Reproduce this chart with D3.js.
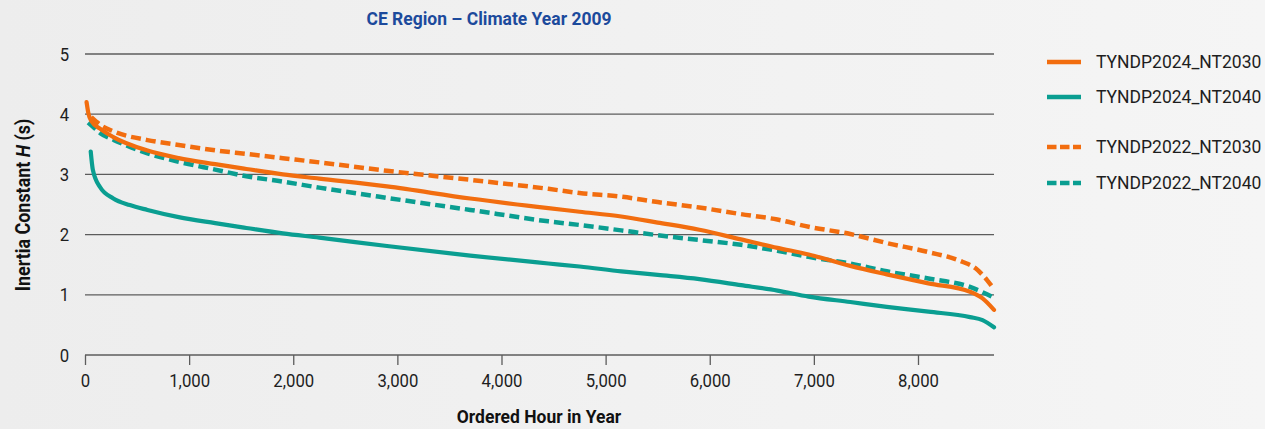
<!DOCTYPE html>
<html>
<head>
<meta charset="utf-8">
<script src="https://cdn.jsdelivr.net/npm/d3@7"></script>
<style>
  html, body { margin: 0; padding: 0; }
  body { width: 1265px; height: 429px; overflow: hidden; }
  svg { display: block; font-family: Roboto, "Noto Sans", sans-serif; }
</style>
</head>
<body>
<svg id="chart" width="1265" height="429"></svg>
<script>
// Inertia duration curves: hours of the year sorted by inertia constant H
const seriesNames = ["TYNDP2024_NT2030", "TYNDP2024_NT2040", "TYNDP2022_NT2030", "TYNDP2022_NT2040"];

const hours2024NT2030 = [15, 32, 64, 144, 272, 592, 900, 1250, 1550, 1900, 2250, 2900, 3700, 4450, 4750, 5150, 5500, 5900, 6300, 6650, 6950, 7350, 7700, 8100, 8500, 8620, 8730];
const values2024NT2030 = [4.20, 4.02, 3.88, 3.76, 3.62, 3.40, 3.27, 3.17, 3.09, 3.00, 2.93, 2.80, 2.60, 2.44, 2.38, 2.30, 2.20, 2.08, 1.92, 1.78, 1.67, 1.48, 1.34, 1.19, 1.05, 0.94, 0.75];

const hours2024NT2040 = [55, 75, 144, 272, 430, 600, 900, 1250, 1550, 1900, 2250, 2900, 3700, 4450, 4750, 5150, 5500, 5900, 6300, 6650, 6950, 7350, 7700, 8100, 8500, 8620, 8730];
const values2024NT2040 = [3.38, 3.08, 2.79, 2.60, 2.49, 2.41, 2.29, 2.19, 2.11, 2.02, 1.95, 1.81, 1.65, 1.52, 1.47, 1.39, 1.33, 1.26, 1.16, 1.07, 0.97, 0.88, 0.80, 0.72, 0.63, 0.58, 0.46];

const hours2022NT2030 = [60, 150, 280, 600, 900, 1250, 1550, 1900, 2250, 2900, 3700, 4450, 4750, 5150, 5500, 5900, 6300, 6650, 6950, 7350, 7700, 8100, 8425, 8553, 8665, 8710];
const values2022NT2030 = [3.95, 3.82, 3.71, 3.57, 3.49, 3.40, 3.34, 3.27, 3.20, 3.06, 2.91, 2.76, 2.69, 2.63, 2.54, 2.45, 2.34, 2.25, 2.13, 2.01, 1.86, 1.71, 1.55, 1.44, 1.24, 1.14];

const hours2022NT2040 = [30, 77, 150, 280, 600, 900, 1250, 1550, 1900, 2250, 2900, 3700, 4450, 4750, 5150, 5500, 5900, 6300, 6650, 6950, 7350, 7700, 8100, 8500, 8720];
const values2022NT2040 = [3.86, 3.79, 3.68, 3.57, 3.35, 3.21, 3.08, 2.97, 2.88, 2.78, 2.61, 2.41, 2.22, 2.16, 2.07, 1.99, 1.91, 1.83, 1.73, 1.63, 1.52, 1.39, 1.27, 1.13, 0.96];

const xTicks = [0, 1000, 2000, 3000, 4000, 5000, 6000, 7000, 8000];
const yTicks = [0, 1, 2, 3, 4, 5];

const ORANGE = "#f26d0f";
const TEAL = "#0a9e91";

const series = [
  { name: seriesNames[2], hours: hours2022NT2030, values: values2022NT2030, color: ORANGE, dashed: true },
  { name: seriesNames[3], hours: hours2022NT2040, values: values2022NT2040, color: TEAL, dashed: true },
  { name: seriesNames[1], hours: hours2024NT2040, values: values2024NT2040, color: TEAL, dashed: false },
  { name: seriesNames[0], hours: hours2024NT2030, values: values2024NT2030, color: ORANGE, dashed: false }
];

const svg = d3.select("#chart");

// soft grey backdrop, slightly lighter to the right
const defs = svg.append("defs");
const grad = defs.append("linearGradient").attr("id", "bg").attr("x1", "0").attr("x2", "1").attr("y1", "0").attr("y2", "0");
grad.append("stop").attr("offset", "0%").attr("stop-color", "#ededed");
grad.append("stop").attr("offset", "100%").attr("stop-color", "#f5f5f5");
svg.append("rect").attr("width", 1265).attr("height", 429).attr("fill", "url(#bg)");

const x = d3.scaleLinear().domain([0, 8730]).range([85, 994]);
const y = d3.scaleLinear().domain([0, 5]).range([355, 54]);

// narrow-set lettering for axis text
const NARROW = "scale(0.88,1)";

// horizontal gridlines
svg.append("g")
  .selectAll("line")
  .data(yTicks)
  .join("line")
  .attr("x1", x(0)).attr("x2", x(8730))
  .attr("y1", d => y(d)).attr("y2", d => y(d))
  .attr("stroke", "#5c5c5c").attr("stroke-width", 1.3);

// y tick labels
const yAxis = d3.axisLeft(y).tickValues(yTicks).tickSize(0).tickPadding(18).tickFormat(d3.format("d"));
svg.append("g").attr("transform", `translate(${x(0)},0)`).call(yAxis)
  .call(g => g.select(".domain").remove())
  .call(g => g.selectAll("text").attr("font-size", 19).attr("fill", "#1e1e1e")
    .attr("font-family", "Roboto").attr("transform", NARROW));

// x axis with downward ticks
const xAxis = d3.axisBottom(x).tickValues(xTicks).tickSize(10).tickPadding(9).tickFormat(d3.format(","));
svg.append("g").attr("transform", `translate(0,${y(0)})`).call(xAxis)
  .call(g => g.select(".domain").remove())
  .call(g => g.selectAll("line").attr("stroke", "#5c5c5c").attr("stroke-width", 1.3))
  .call(g => g.selectAll("text").attr("font-size", 19).attr("fill", "#1e1e1e")
    .attr("font-family", "Roboto").attr("transform", NARROW));

// curves
const line = d3.line()
  .x(d => x(d[0]))
  .y(d => y(d[1]))
  .curve(d3.curveMonotoneX);

svg.append("g")
  .selectAll("path")
  .data(series)
  .join("path")
  .attr("d", s => line(d3.zip(s.hours, s.values)))
  .attr("fill", "none")
  .attr("stroke", s => s.color)
  .attr("stroke-width", s => s.dashed ? 4.5 : 4.2)
  .attr("stroke-dasharray", s => s.dashed ? "10,5" : null)
  .attr("stroke-linejoin", "round")
  .attr("stroke-linecap", s => s.dashed ? "butt" : "round");

// title
svg.append("text")
  .attr("transform", "translate(489,25) scale(0.92,1)")
  .attr("text-anchor", "middle")
  .attr("font-size", 19).attr("font-weight", 700)
  .attr("fill", "#1c4a9c")
  .text("CE Region \u2013 Climate Year 2009");

// axis titles
svg.append("text")
  .attr("transform", "translate(539,423) scale(0.92,1)")
  .attr("text-anchor", "middle")
  .attr("font-size", 19).attr("font-weight", 700).attr("fill", "#111")
  .text("Ordered Hour in Year");

const yTitle = svg.append("text")
  .attr("transform", "translate(30,205) rotate(-90) scale(0.92,1)")
  .attr("text-anchor", "middle")
  .attr("font-size", 19.5).attr("font-weight", 700).attr("fill", "#111");
yTitle.append("tspan").text("Inertia Constant ");
yTitle.append("tspan").attr("font-style", "italic").text("H");
yTitle.append("tspan").text(" (s)");

// legend
const legendRows = [
  { name: seriesNames[0], color: ORANGE, dashed: false, yPos: 62 },
  { name: seriesNames[1], color: TEAL, dashed: false, yPos: 97 },
  { name: seriesNames[2], color: ORANGE, dashed: true, yPos: 147 },
  { name: seriesNames[3], color: TEAL, dashed: true, yPos: 183 }
];
const legend = svg.append("g");
const rows = legend.selectAll("g").data(legendRows).join("g")
  .attr("transform", d => `translate(0,${d.yPos})`);
rows.append("line")
  .attr("x1", 1047).attr("x2", 1081).attr("y1", 0).attr("y2", 0)
  .attr("stroke", d => d.color)
  .attr("stroke-width", 4.5)
  .attr("stroke-dasharray", d => d.dashed ? "9.5,3.5" : null);
rows.append("text")
  .attr("x", 1096).attr("y", 0).attr("dy", "0.35em")
  .attr("font-size", 17.5).attr("fill", "#1e1e1e")
  .text(d => d.name);
</script>
</body>
</html>
